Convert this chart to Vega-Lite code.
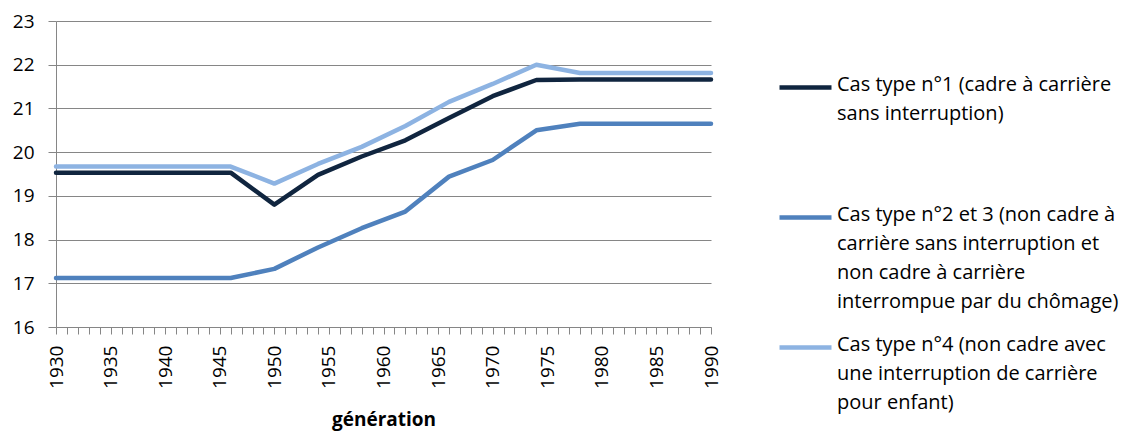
{
  "$schema": "https://vega.github.io/schema/vega-lite/v6.json",
  "width": 655,
  "height": 306,
  "autosize": "none",
  "padding": {"left": 56, "top": 21, "right": 416, "bottom": 105},
  "background": "white",
  "config": {
    "font": "Open Sans",
    "view": {"stroke": null}
  },
  "data": {
    "values": [
      {"annee": 1930, "cas": "Cas type n°1 (cadre à carrière|sans interruption)", "valeur": 19.53},
      {"annee": 1946, "cas": "Cas type n°1 (cadre à carrière|sans interruption)", "valeur": 19.53},
      {"annee": 1950, "cas": "Cas type n°1 (cadre à carrière|sans interruption)", "valeur": 18.8},
      {"annee": 1954, "cas": "Cas type n°1 (cadre à carrière|sans interruption)", "valeur": 19.48},
      {"annee": 1958, "cas": "Cas type n°1 (cadre à carrière|sans interruption)", "valeur": 19.9},
      {"annee": 1962, "cas": "Cas type n°1 (cadre à carrière|sans interruption)", "valeur": 20.27},
      {"annee": 1966, "cas": "Cas type n°1 (cadre à carrière|sans interruption)", "valeur": 20.78},
      {"annee": 1970, "cas": "Cas type n°1 (cadre à carrière|sans interruption)", "valeur": 21.28},
      {"annee": 1974, "cas": "Cas type n°1 (cadre à carrière|sans interruption)", "valeur": 21.65},
      {"annee": 1978, "cas": "Cas type n°1 (cadre à carrière|sans interruption)", "valeur": 21.66},
      {"annee": 1990, "cas": "Cas type n°1 (cadre à carrière|sans interruption)", "valeur": 21.66},
      {"annee": 1930, "cas": "Cas type n°2 et 3 (non cadre à|carrière sans interruption et|non cadre à carrière|interrompue par du chômage)", "valeur": 17.12},
      {"annee": 1946, "cas": "Cas type n°2 et 3 (non cadre à|carrière sans interruption et|non cadre à carrière|interrompue par du chômage)", "valeur": 17.12},
      {"annee": 1950, "cas": "Cas type n°2 et 3 (non cadre à|carrière sans interruption et|non cadre à carrière|interrompue par du chômage)", "valeur": 17.33},
      {"annee": 1954, "cas": "Cas type n°2 et 3 (non cadre à|carrière sans interruption et|non cadre à carrière|interrompue par du chômage)", "valeur": 17.82},
      {"annee": 1958, "cas": "Cas type n°2 et 3 (non cadre à|carrière sans interruption et|non cadre à carrière|interrompue par du chômage)", "valeur": 18.26},
      {"annee": 1962, "cas": "Cas type n°2 et 3 (non cadre à|carrière sans interruption et|non cadre à carrière|interrompue par du chômage)", "valeur": 18.64},
      {"annee": 1966, "cas": "Cas type n°2 et 3 (non cadre à|carrière sans interruption et|non cadre à carrière|interrompue par du chômage)", "valeur": 19.44},
      {"annee": 1970, "cas": "Cas type n°2 et 3 (non cadre à|carrière sans interruption et|non cadre à carrière|interrompue par du chômage)", "valeur": 19.82},
      {"annee": 1974, "cas": "Cas type n°2 et 3 (non cadre à|carrière sans interruption et|non cadre à carrière|interrompue par du chômage)", "valeur": 20.5},
      {"annee": 1978, "cas": "Cas type n°2 et 3 (non cadre à|carrière sans interruption et|non cadre à carrière|interrompue par du chômage)", "valeur": 20.65},
      {"annee": 1990, "cas": "Cas type n°2 et 3 (non cadre à|carrière sans interruption et|non cadre à carrière|interrompue par du chômage)", "valeur": 20.65},
      {"annee": 1930, "cas": "Cas type n°4 (non cadre avec|une interruption de carrière|pour enfant)", "valeur": 19.67},
      {"annee": 1946, "cas": "Cas type n°4 (non cadre avec|une interruption de carrière|pour enfant)", "valeur": 19.67},
      {"annee": 1950, "cas": "Cas type n°4 (non cadre avec|une interruption de carrière|pour enfant)", "valeur": 19.28},
      {"annee": 1954, "cas": "Cas type n°4 (non cadre avec|une interruption de carrière|pour enfant)", "valeur": 19.73},
      {"annee": 1958, "cas": "Cas type n°4 (non cadre avec|une interruption de carrière|pour enfant)", "valeur": 20.12},
      {"annee": 1962, "cas": "Cas type n°4 (non cadre avec|une interruption de carrière|pour enfant)", "valeur": 20.6},
      {"annee": 1966, "cas": "Cas type n°4 (non cadre avec|une interruption de carrière|pour enfant)", "valeur": 21.15},
      {"annee": 1970, "cas": "Cas type n°4 (non cadre avec|une interruption de carrière|pour enfant)", "valeur": 21.56},
      {"annee": 1974, "cas": "Cas type n°4 (non cadre avec|une interruption de carrière|pour enfant)", "valeur": 22.0},
      {"annee": 1978, "cas": "Cas type n°4 (non cadre avec|une interruption de carrière|pour enfant)", "valeur": 21.81},
      {"annee": 1990, "cas": "Cas type n°4 (non cadre avec|une interruption de carrière|pour enfant)", "valeur": 21.81}
    ]
  },
  "mark": {"type": "line", "strokeWidth": 4.5, "strokeCap": "round", "strokeJoin": "round"},
  "encoding": {
    "x": {
      "field": "annee",
      "type": "quantitative",
      "scale": {"domain": [1930, 1990], "nice": false, "zero": false},
      "axis": {
        "title": "génération",
        "titleFont": "Open Sans",
        "titleFontSize": 19,
        "titleFontWeight": "bold",
        "titleColor": "black",
        "titlePadding": 22,
        "values": [1930,1931,1932,1933,1934,1935,1936,1937,1938,1939,1940,1941,1942,1943,1944,1945,1946,1947,1948,1949,1950,1951,1952,1953,1954,1955,1956,1957,1958,1959,1960,1961,1962,1963,1964,1965,1966,1967,1968,1969,1970,1971,1972,1973,1974,1975,1976,1977,1978,1979,1980,1981,1982,1983,1984,1985,1986,1987,1988,1989,1990],
        "format": "d",
        "labelExpr": "datum.value % 5 == 0 ? datum.label : ''",
        "labelAngle": -90,
        "labelAlign": "right",
        "labelBaseline": "middle",
        "labelFontSize": 19,
        "labelColor": "black",
        "labelPadding": 11,
        "labelOverlap": false,
        "labelFlush": false,
        "grid": false,
        "domainColor": "#868686",
        "domainWidth": 1,
        "tickColor": "#868686",
        "tickSize": 7,
        "tickWidth": 1
      }
    },
    "y": {
      "field": "valeur",
      "type": "quantitative",
      "scale": {"domain": [16, 23], "nice": false, "zero": false},
      "axis": {
        "title": null,
        "values": [16,17,18,19,20,21,22,23],
        "labelFontSize": 19,
        "labelColor": "black",
        "labelPadding": 14,
        "tickSize": 8,
        "tickColor": "#868686",
        "domainColor": "#868686",
        "gridColor": "#868686",
        "gridWidth": 1,
        "labelFlush": false
      }
    },
    "color": {
      "field": "cas",
      "type": "nominal",
      "scale": {
        "domain": [
          "Cas type n°1 (cadre à carrière|sans interruption)",
          "Cas type n°2 et 3 (non cadre à|carrière sans interruption et|non cadre à carrière|interrompue par du chômage)",
          "Cas type n°4 (non cadre avec|une interruption de carrière|pour enfant)"
        ],
        "range": ["#10253F", "#4F81BD", "#8DB3E2"]
      },
      "legend": {
        "title": null,
        "orient": "none",
        "legendX": 721,
        "legendY": 38,
        "padding": 0,
        "gridAlign": "all",
        "symbolType": "stroke",
        "symbolSize": 2704,
        "symbolStrokeWidth": 4.5,
        "labelExpr": "split(datum.label, '|')",
        "labelFont": "Open Sans",
        "labelFontSize": 20,
        "labelColor": "black",
        "labelBaseline": "top",
        "labelLimit": 400,
        "labelOffset": 3,
        "rowPadding": 7,
        "encode": {
          "labels": {"update": {"lineHeight": {"value": 29}, "dy": {"value": -13}}}
        }
      }
    }
  }
}
